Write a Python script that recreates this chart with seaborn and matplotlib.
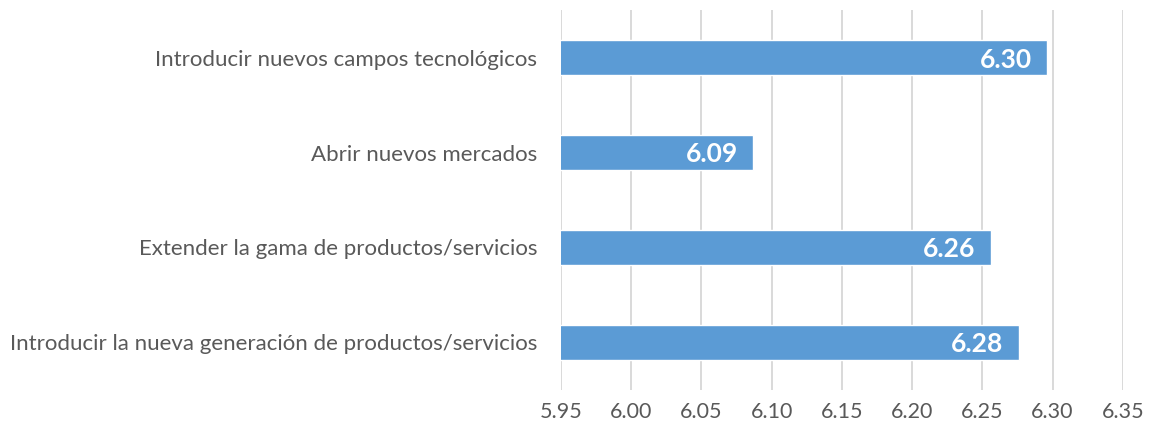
import matplotlib
matplotlib.use("Agg")
import matplotlib.pyplot as plt
import seaborn as sns
import pandas as pd

categories = [
    "Introducir nuevos campos tecnológicos",
    "Abrir nuevos mercados",
    "Extender la gama de productos/servicios",
    "Introducir la nueva generación de productos/servicios",
]
values = [6.296, 6.087, 6.256, 6.276]
x_ticks = [5.95, 6.00, 6.05, 6.10, 6.15, 6.20, 6.25, 6.30, 6.35]

sns.set_theme(style="white")
plt.rcParams["font.family"] = ["Lato", "DejaVu Sans"]

df = pd.DataFrame({"categoria": categories, "valor": values})

fig = plt.figure(figsize=(11.66, 4.44), dpi=100)
ax = fig.add_axes([0.481, 0.122, 0.482, 0.855])

sns.barplot(data=df, x="valor", y="categoria", orient="h", color="#5B9BD5",
            saturation=1, width=0.37, ax=ax, zorder=3)

ax.set_xlim(5.95, 6.35)
ax.set_ylim(3.5, -0.5)
ax.set_xticks(x_ticks)
ax.set_xticklabels([f"{t:.2f}" for t in x_ticks], fontsize=15.5, color="#595959")
ax.tick_params(axis="y", labelsize=16, labelcolor="#595959", length=0, pad=17)
ax.tick_params(axis="x", length=0, pad=9)
ax.set_xlabel("")
ax.set_ylabel("")
ax.grid(axis="x", color="#D9D9D9", linewidth=1.4, zorder=0)
ax.grid(axis="y", visible=False)
for s in ax.spines.values():
    s.set_visible(False)

for i, v in enumerate(values):
    ax.text(v - 0.011, i + 0.02, f"{v:.2f}", ha="right", va="center",
            color="white", fontsize=19, fontweight="bold", zorder=4)

fig.savefig("out.png", dpi=100, facecolor="white")
